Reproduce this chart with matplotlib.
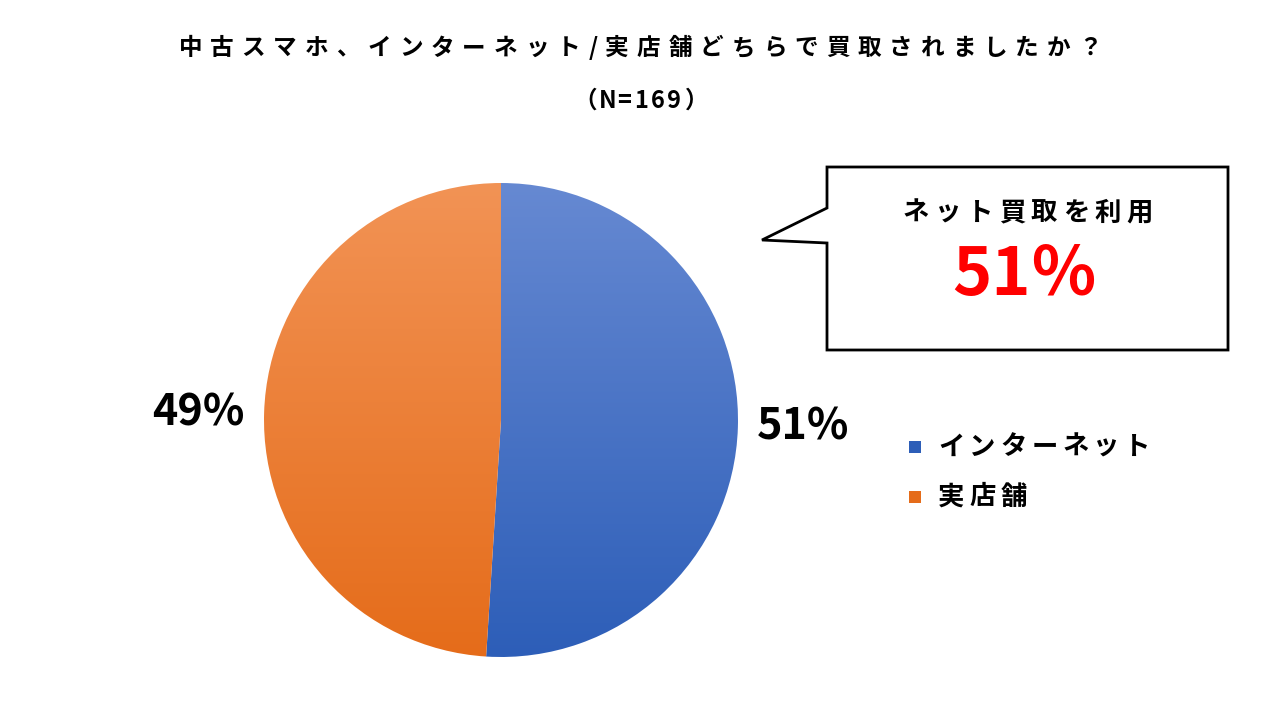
import numpy as np
import matplotlib
matplotlib.use("Agg")
import matplotlib.pyplot as plt
from matplotlib.patches import Wedge, Polygon, Rectangle

plt.rcParams['font.family'] = ['Noto Sans CJK JP', 'DejaVu Sans']

title = "中古スマホ、インターネット/実店舗どちらで買取されましたか？"
subtitle = "（N=169）"
categories = ["インターネット", "実店舗"]
values = [51, 49]
top_colors = ["#6689D2", "#F29355"]
bot_colors = ["#2D5EB8", "#E56C1A"]

fig = plt.figure(figsize=(12.8, 7.2), dpi=100)
ax = fig.add_axes([0, 0, 1, 1])
ax.set_xlim(0, 1280); ax.set_ylim(0, 720); ax.axis('off')

def Y(py): return 720 - py

def spaced(text, x0, y, step, size, ha='left', **kw):
    # place characters with fixed advance (emulates letter-spaced CJK text)
    widths = [step if ord(ch) > 0x2000 else step * 0.55 for ch in text]
    total = sum(widths)
    x = x0 - total / 2 if ha == 'center' else x0
    for ch, w in zip(text, widths):
        ax.text(x + w / 2, y, ch, fontsize=size, fontweight='bold', ha='center', va='center', **kw)
        x += w

cx, cy, r = 501, Y(420), 237
start = 90.0
total = sum(values)
for v, tc, bc in zip(values, top_colors, bot_colors):
    sweep = 360 * v / total
    w = Wedge((cx, cy), r, start - sweep, start, facecolor='none', edgecolor='none')
    ax.add_patch(w)
    t = np.array(matplotlib.colors.to_rgb(tc)); b = np.array(matplotlib.colors.to_rgb(bc))
    f = np.linspace(0, 1, 256)[:, None]
    grad = (t * (1 - f) + b * f)[:, None, :]
    im = ax.imshow(grad, extent=(cx - r, cx + r, cy - r, cy + r), origin='upper',
                   aspect='auto', zorder=1)
    im.set_clip_path(w)
    start -= sweep
ax.set_xlim(0, 1280); ax.set_ylim(0, 720)

ax.text(803, Y(427), f"{values[0]}%", fontsize=31, fontweight='bold', ha='center', va='center')
ax.text(198, Y(412), f"{values[1]}%", fontsize=31, fontweight='bold', ha='center', va='center')

spaced(title, 640, Y(48), 31.5, 17, ha='center')
spaced(subtitle, 641, Y(101), 30, 17, ha='center')

# callout
poly = [(827, 167), (1228, 167), (1228, 350), (827, 350), (827, 243), (762, 240), (827, 208)]
ax.add_patch(Polygon([(x, Y(y)) for x, y in poly], closed=True, facecolor='white',
                     edgecolor='black', linewidth=2, zorder=3))
spaced("ネット買取を利用", 1028, Y(213), 32, 19, ha='center', zorder=4)
ax.text(1025, Y(276), f"{values[0]}％", fontsize=48, fontweight='bold', color='#FF0000',
        ha='center', va='center', zorder=4)

# legend
for i, (c, tc, bc) in enumerate(zip(categories, top_colors, bot_colors)):
    y = 447 + 50 * i
    ax.add_patch(Rectangle((909, Y(y) - 6), 12, 12, facecolor=bc, zorder=3))
    spaced(c, 936, Y(y), 31, 19)

fig.savefig("out.png", dpi=100)
